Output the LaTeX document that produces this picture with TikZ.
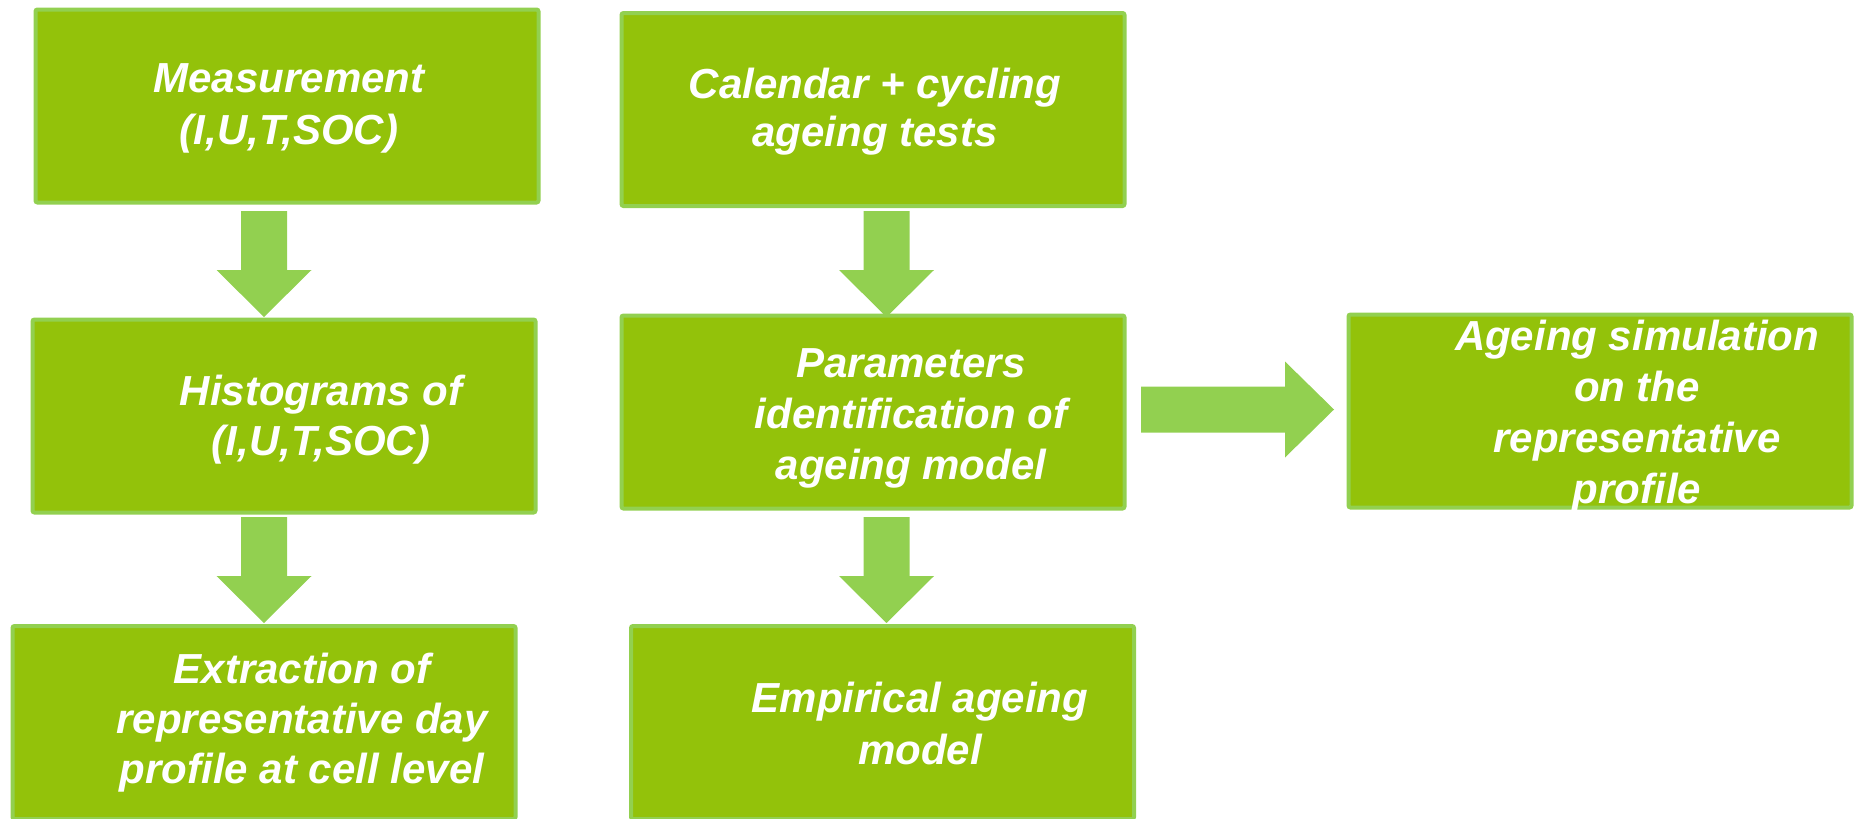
\documentclass[tikz,border=0pt]{standalone}
\usepackage{fontspec}
\setmainfont{Liberation Sans}
\definecolor{boxfill}{HTML}{93C20A}
\definecolor{boxline}{HTML}{92D050}
\tikzset{
  box/.style={draw=boxline, line width=4pt, fill=boxfill, rounded corners=2pt,
    minimum width=503pt, minimum height=193pt, inner sep=0pt},
  lbl/.style={text=white, align=center, inner sep=0pt},
  arr/.style={fill=boxline},
  darrow/.pic={\fill[arr] (-23,0) -- (23,0) -- (23,59) -- (47.5,59) -- (0,106) -- (-47.5,59) -- (-23,59) -- cycle;},
  rarrow/.pic={\fill[arr] (0,-23) -- (144,-23) -- (144,-48) -- (193,0) -- (144,48) -- (144,23) -- (0,23) -- cycle;},
}
\newcommand{\lblfont}[1]{\fontsize{42}{#1}\selectfont\bfseries\itshape}
\begin{document}
\begin{tikzpicture}[x=1pt,y=-1pt]
\useasboundingbox (0,0) rectangle (1856,819);
% boxes
\node[box] (m) at (287,106) {};
\node[box] (c) at (873,109.5) {};
\node[box] (h) at (284,416) {};
\node[box] (p) at (873,412) {};
\node[box] (a) at (1600,411) {};
\node[box] (e) at (264,722.5) {};
\node[box] (em) at (882.5,722.5) {};
% labels
\node[lbl, font=\lblfont{52}] (mt) at (289,108) {Measurement\\(I,U,T,SOC)};
\node[lbl, font=\lblfont{48}] (ct) at (875,111.5) {Calendar + cycling\\ageing tests};
\node[lbl, font=\lblfont{50}] (ht) at (321,420) {Histograms of\\(I,U,T,SOC)};
\node[lbl, font=\lblfont{51}] (pt) at (911,418) {Parameters\\identification of\\ageing model};
\node[lbl, font=\lblfont{51}] (at) at (1637,416) {Ageing simulation\\on the\\representative\\profile};
\node[lbl, font=\lblfont{50}] (et) at (302,723) {Extraction of\\representative day\\profile at cell level};
\node[lbl, font=\lblfont{52}] (emt) at (920,723) {Empirical ageing\\model};
% arrows
\pic at (264,211) {darrow};
\pic at (886.5,211) {darrow};
\pic at (264,517) {darrow};
\pic at (886.5,517) {darrow};
\pic at (1141,409.5) {rarrow};
\end{tikzpicture}
\end{document}
